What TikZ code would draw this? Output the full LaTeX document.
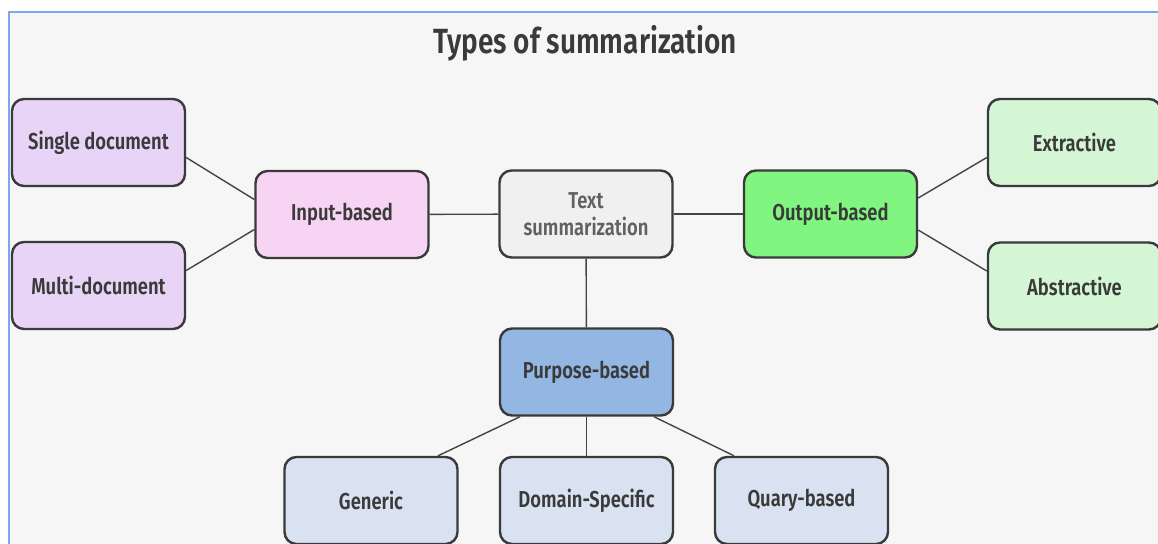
\documentclass[tikz,border=0pt]{standalone}
\usepackage{fontspec}
\setmainfont{Fira Sans}[FakeStretch=0.8]
\newfontfamily\medfont{Fira Sans SemiBold}[FakeStretch=0.8]

\definecolor{pagebg}{HTML}{F6F6F6}
\definecolor{frameblue}{HTML}{7FA8EC}
\definecolor{boxline}{HTML}{3A3A3A}
\definecolor{linkgray}{HTML}{444444}
\definecolor{textdark}{HTML}{3A3A3A}
\definecolor{docpurple}{HTML}{E7D4F6}
\definecolor{inpink}{HTML}{F7D3F4}
\definecolor{rootgray}{HTML}{F0F0F0}
\definecolor{outgreen}{HTML}{80F580}
\definecolor{leafgreen}{HTML}{D4F6D4}
\definecolor{purblue}{HTML}{93B6E2}
\definecolor{leafblue}{HTML}{D8E2F1}

\begin{document}
\begin{tikzpicture}[x=0.5pt, y=-0.5pt,
    kind/.style={draw=boxline, line width=1.2pt, rounded corners=6pt,
      minimum width=86.5pt, minimum height=43.5pt, inner sep=0pt,
      align=center, text=textdark, font=\medfont\fontsize{11.5}{13.5}\selectfont},
    link/.style={draw=linkgray, line width=0.7pt}]
  \useasboundingbox (0,0) rectangle (1158,543);
  \fill[white] (0,0) rectangle (1158,543);
  \fill[pagebg] (9,12) rectangle (1162,547);
  \draw[frameblue, line width=1.2pt] (9,547) -- (9,12) -- (1162,12);

  \node[text=textdark, font=\medfont\fontsize{17.5}{20}\selectfont] (title) at (585,43) {Types of summarization};

  \node[kind, fill=rootgray, text=black!62] (text) at (586,214) {Text\\summarization};
  \node[kind, fill=inpink] (input) at (342,214.5) {Input-based};
  \node[kind, fill=docpurple] (single) at (98.5,142.5) {Single document};
  \node[kind, fill=docpurple] (multi) at (98.5,285.5) {Multi-document};
  \node[kind, fill=outgreen] (output) at (830.5,214) {Output-based};
  \node[kind, fill=leafgreen] (extract) at (1074.5,142.5) {Extractive};
  \node[kind, fill=leafgreen] (abstract) at (1074.5,286) {Abstractive};
  \node[kind, fill=purblue] (purpose) at (586.5,372) {Purpose-based};
  \node[kind, fill=leafblue] (generic) at (371,500.5) {Generic};
  \node[kind, fill=leafblue] (domain) at (586.5,500.5) {Domain-Specific};
  \node[kind, fill=leafblue] (query) at (801.5,500.5) {Quary-based};

  \draw[link] (text) -- (input);
  \draw[link] (text) -- (output);
  \draw[link] (text) -- (purpose);
  \draw[link] ([yshift=-7.5pt]single.east) -- ([yshift=7.5pt]input.west);
  \draw[link] ([yshift=7.5pt]multi.east) -- ([yshift=-7.5pt]input.west);
  \draw[link] ([yshift=8pt]output.east) -- ([yshift=-7.5pt]extract.west);
  \draw[link] ([yshift=-8pt]output.east) -- ([yshift=7.5pt]abstract.west);
  \draw[link] ([xshift=-33.25pt]purpose.south) -- ([xshift=33.5pt]generic.north);
  \draw[link] (purpose) -- (domain);
  \draw[link] ([xshift=33.75pt]purpose.south) -- ([xshift=-33.75pt]query.north);
\end{tikzpicture}
\end{document}
